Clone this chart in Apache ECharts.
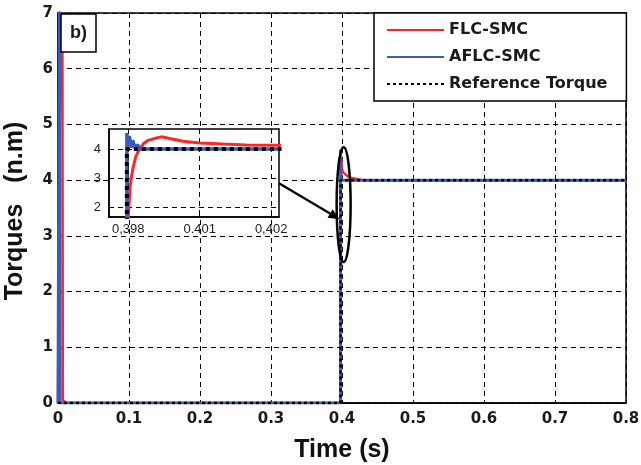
<!DOCTYPE html>
<html>
<head>
<meta charset="utf-8">
<script src="https://cdn.jsdelivr.net/npm/echarts@6/dist/echarts.min.js"></script>
<style>html,body{margin:0;padding:0;background:#fff}#c{width:641px;height:465px}</style>
</head>
<body>
<div id="c"></div>
<script>
// ---- data ----
const seriesNames = ['FLC-SMC', 'AFLC-SMC', 'Reference Torque'];

const flcTime   = [0, 0.003, 0.0062, 0.0068, 0.012, 0.39797, 0.39800, 0.39805, 0.39809, 0.39814, 0.39821, 0.39828, 0.39842, 0.39856, 0.39879, 0.39893, 0.39916, 0.39953, 0.40000, 0.40065, 0.40130, 0.40223, 0.41, 0.43, 0.8];
const flcTorque = [0, 6.0, 6.35, 0.05, 0, 0, 1.65, 2.70, 3.05, 3.39, 3.74, 3.92, 4.18, 4.30, 4.38, 4.42, 4.36, 4.27, 4.21, 4.17, 4.14, 4.13, 4.05, 4.0, 4.0];

const aflcTime   = [0, 0.002, 0.003, 0.39796, 0.39796, 0.39800, 0.39803, 0.39808, 0.39812, 0.39820, 0.39826, 0.39833, 0.8];
const aflcTorque = [0, 7.6, 0, 0, 4.55, 4.05, 4.45, 4.05, 4.30, 4.02, 4.15, 4.0, 4.0];

const refTime   = [0, 0.39796, 0.39796, 0.8];
const refTorque = [0, 0, 4, 4];

const xTickLabels = ['0', '0.1', '0.2', '0.3', '0.4', '0.5', '0.6', '0.7', '0.8'];
const yTickLabels = ['0', '1', '2', '3', '4', '5', '6', '7'];
const insetXTicks = [0.398, 0.400, 0.402];
const insetXTickLabels = ['0,398', '0.401', '0,402'];
const insetYTicks = [2, 3, 4];
const insetYTickLabels = ['2', '3', '4'];

// ---- build ----
const zip = (a, b) => a.map((v, i) => [v, b[i]]);
const flcData = zip(flcTime, flcTorque);
const aflcData = zip(aflcTime, aflcTorque);
const refData = zip(refTime, refTorque);

const RED = '#ff2525', BLUE = '#3d5cb8';
const gridLine = { show: true, lineStyle: { color: '#000', type: [5, 4], width: 1 } };
const tickFont = { fontFamily: 'DejaVu Sans', fontWeight: 'bold', fontSize: 15, color: '#1a1a1a' };
const insetFont = { fontFamily: 'Liberation Sans', fontSize: 13, color: '#222' };

const chart = echarts.init(document.getElementById('c'), null, { renderer: 'canvas' });

function mkSeries(gi) {
  const base = gi === 0 ? 0 : 1;
  return [
    { name: seriesNames[0], type: 'line', xAxisIndex: base, yAxisIndex: base, data: flcData,
      showSymbol: false, symbol: 'none', lineStyle: { color: RED, width: gi === 0 ? 2.5 : 3 }, itemStyle: { color: RED },
      animation: false, z: 2 + gi * 10 },
    { name: seriesNames[1], type: 'line', xAxisIndex: base, yAxisIndex: base, data: aflcData,
      showSymbol: false, symbol: 'none', lineStyle: { color: BLUE, width: gi === 0 ? 3 : 3.5 }, itemStyle: { color: BLUE },
      animation: false, z: 3 + gi * 10 },
    { name: seriesNames[2], type: 'line', xAxisIndex: base, yAxisIndex: base, data: refData,
      showSymbol: false, symbol: 'none', lineStyle: { color: '#000', width: gi === 0 ? 2.5 : 4, type: gi === 0 ? [3, 3] : [4, 4] },
      itemStyle: { color: '#000' }, animation: false, z: 4 + gi * 10 }
  ];
}

const option = {
  backgroundColor: '#fff',
  animation: false,
  title: {
    text: 'b)', left: 61, top: 14, padding: [9, 9, 9, 9],
    borderColor: '#000', borderWidth: 1.5, backgroundColor: '#fff',
    textStyle: { fontFamily: 'Liberation Sans', fontWeight: 'bold', fontSize: 18, lineHeight: 20, color: '#1a1a1a' }
  },
  legend: {
    data: seriesNames, orient: 'vertical', left: 374, top: 13,
    padding: [9, 19, 9, 12], itemGap: 11, itemWidth: 57, itemHeight: 14,
    borderColor: '#000', borderWidth: 1.5, backgroundColor: '#fff', borderRadius: 0,
    itemStyle: { opacity: 0 },
    textStyle: { fontFamily: 'DejaVu Sans', fontWeight: 'bold', fontSize: 16, color: '#1a1a1a' },
    z: 20
  },
  grid: [
    { left: 58, top: 13, right: 15, bottom: 62, show: true, borderColor: '#000', borderWidth: 1.5, backgroundColor: 'transparent',
      containLabel: false, outerBoundsMode: 'none' },
    { left: 109, top: 129, width: 170, height: 88, show: true, borderColor: '#000', borderWidth: 1.5, backgroundColor: '#fff', z: 10,
      containLabel: false, outerBoundsMode: 'none' }
  ],
  xAxis: [
    { type: 'value', gridIndex: 0, min: 0, max: 0.8, interval: 0.1,
      name: 'Time (s)', nameLocation: 'middle', nameGap: 35,
      nameTextStyle: { fontFamily: 'Liberation Sans', fontWeight: 'bold', fontSize: 25, color: '#111' },
      axisLine: { show: true, onZero: false, lineStyle: { color: '#000', width: 1.5 } },
      axisTick: { show: false },
      axisLabel: Object.assign({ margin: 9, formatter: v => xTickLabels[Math.round(v * 10)] }, tickFont),
      splitLine: gridLine },
    { type: 'value', gridIndex: 1, min: 0.39746, max: 0.40222, z: 10,
      axisLine: { show: true, onZero: false, lineStyle: { color: '#000', width: 1.5 } },
      axisTick: { show: true, inside: true, length: 4, customValues: insetXTicks, lineStyle: { color: '#000' } },
      axisLabel: Object.assign({ margin: 6, customValues: insetXTicks,
        formatter: v => insetXTickLabels[insetXTicks.findIndex(t => Math.abs(t - v) < 1e-7)] }, insetFont),
      splitLine: gridLine }
  ],
  yAxis: [
    { type: 'value', gridIndex: 0, min: 0, max: 7, interval: 1,
      name: 'Torques   (n.m)', nameLocation: 'middle', nameGap: 30, nameRotate: 90,
      nameTextStyle: { fontFamily: 'Liberation Sans', fontWeight: 'bold', fontSize: 25, color: '#111', padding: [0, 6, 0, 0] },
      axisLine: { show: true, onZero: false, lineStyle: { color: '#000', width: 1.5 } },
      axisTick: { show: false },
      axisLabel: Object.assign({ margin: 5, formatter: v => yTickLabels[Math.round(v)] }, tickFont),
      splitLine: gridLine },
    { type: 'value', gridIndex: 1, min: 1.66, max: 4.69, z: 10,
      axisLine: { show: true, onZero: false, lineStyle: { color: '#000', width: 1.5 } },
      axisTick: { show: true, inside: true, length: 4, customValues: insetYTicks, lineStyle: { color: '#000' } },
      axisLabel: Object.assign({ margin: 8, customValues: insetYTicks,
        formatter: v => insetYTickLabels[insetYTicks.indexOf(Math.round(v))] }, insetFont),
      splitLine: gridLine }
  ],
  series: mkSeries(0).concat(mkSeries(1)),
};
chart.setOption(option);

// ---- annotations anchored to data coordinates ----
const a0 = chart.convertToPixel({ gridIndex: 1 }, [0.40222, 2.82]);
const a1 = chart.convertToPixel({ gridIndex: 0 }, [0.3965, 3.3]);
const eTop = chart.convertToPixel({ gridIndex: 0 }, [0.4023, 4.59]);
const eBot = chart.convertToPixel({ gridIndex: 0 }, [0.4023, 2.53]);
const ang = Math.atan2(a1[1] - a0[1], a1[0] - a0[0]);
const hl = 11, hw = 5;
const bx = a1[0] - hl * Math.cos(ang), by = a1[1] - hl * Math.sin(ang);
const head = [
  [a1[0], a1[1]],
  [bx + hw * Math.sin(ang), by - hw * Math.cos(ang)],
  [bx - hw * Math.sin(ang), by + hw * Math.cos(ang)]
];
chart.setOption({
  graphic: [
    { type: 'line', shape: { x1: a0[0], y1: a0[1], x2: bx, y2: by }, style: { stroke: '#000', lineWidth: 2.2 }, z: 30 },
    { type: 'polygon', shape: { points: head }, style: { fill: '#000' }, z: 30 },
    { type: 'ellipse', shape: { cx: eTop[0], cy: (eTop[1] + eBot[1]) / 2, rx: 7, ry: (eBot[1] - eTop[1]) / 2 },
      style: { fill: 'none', stroke: '#000', lineWidth: 2.5 }, z: 30 }
  ]
});
</script>
</body>
</html>
